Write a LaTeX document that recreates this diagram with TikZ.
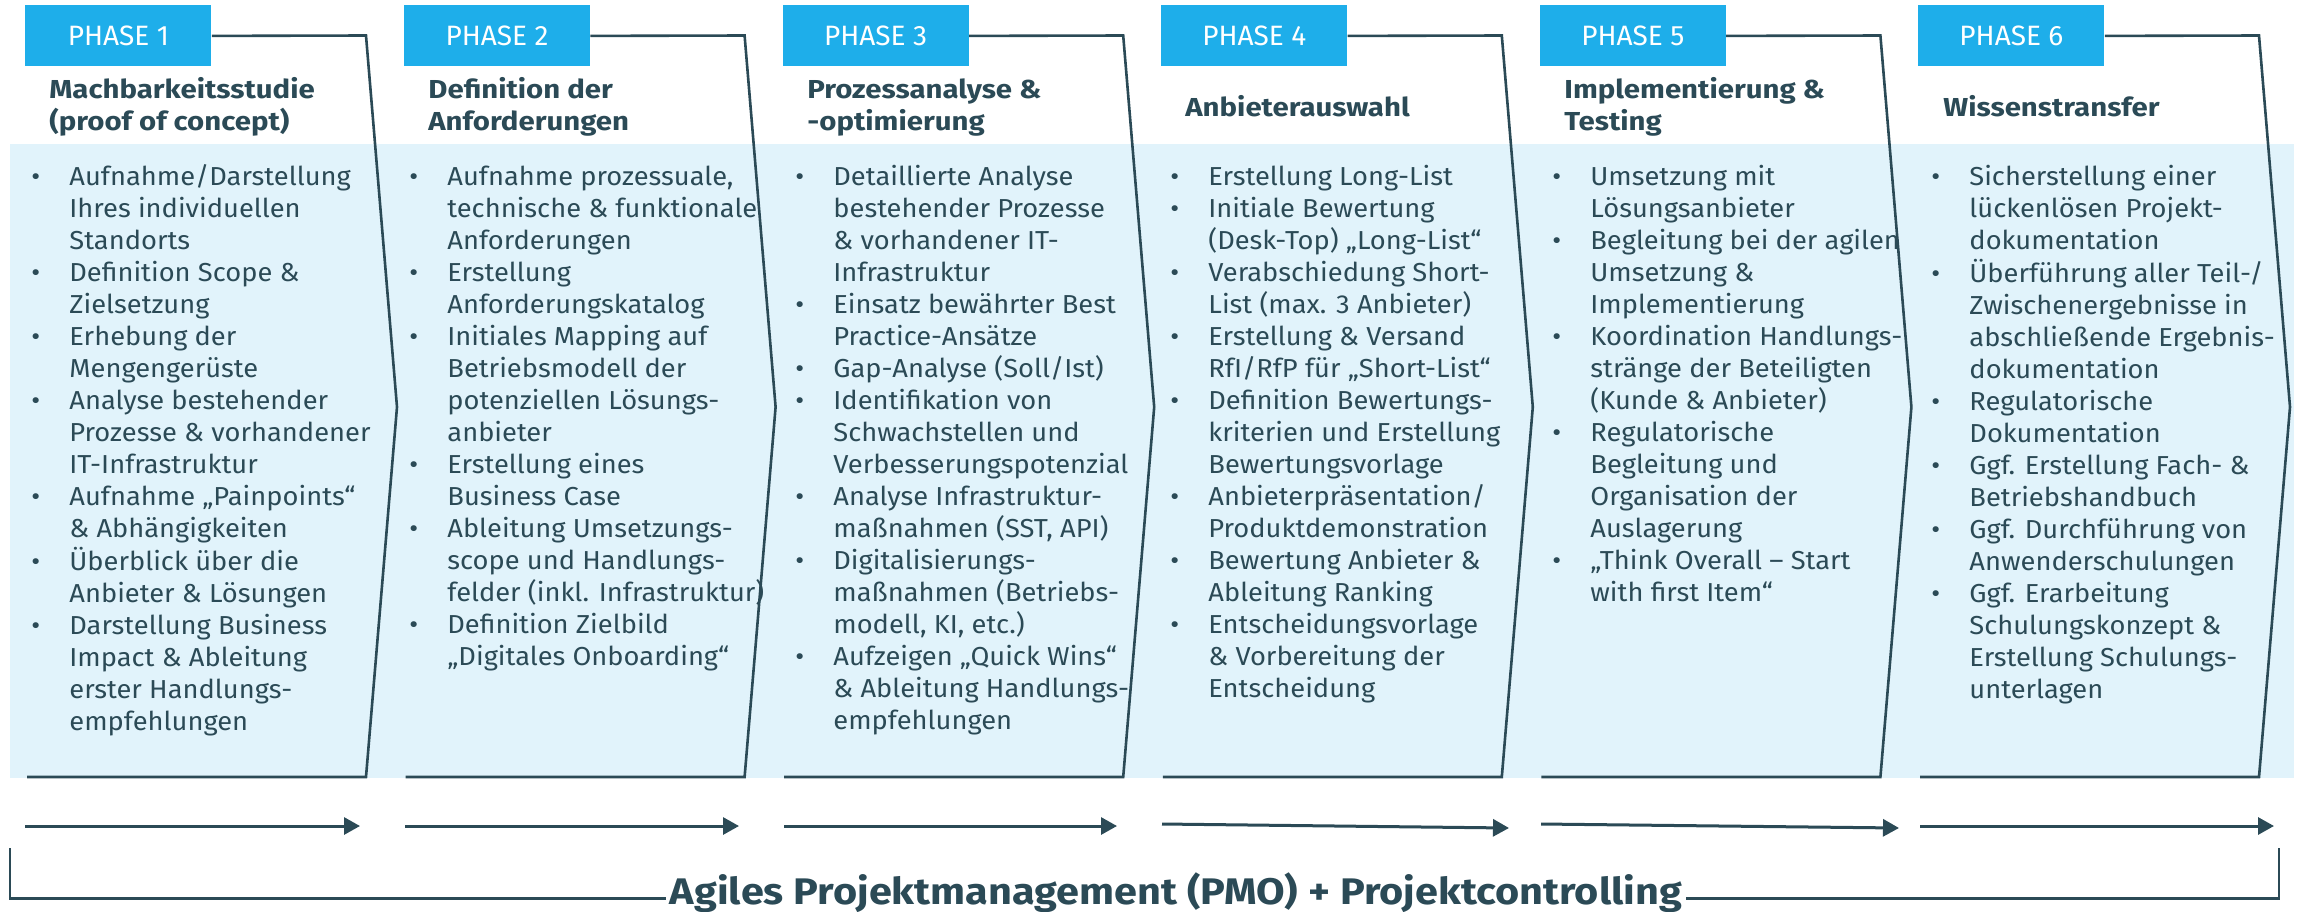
\documentclass[tikz,border=0pt]{standalone}
\usepackage{fontspec}
\setmainfont{Fira Sans}[FakeStretch=1.05]
\newfontfamily\titlefont{Fira Sans}[FakeStretch=1.13]
\newfontfamily\pmofont{Fira Sans}[FakeStretch=1.12]
\newfontfamily\labelfont{Fira Sans}
\usetikzlibrary{arrows.meta,calc}
\definecolor{phaseblue}{RGB}{30,174,234}
\definecolor{bandblue}{RGB}{225,243,251}
\definecolor{ink}{RGB}{43,74,86}
\newcommand\bul{\textbullet}
\newenvironment{blist}{\begin{tabular}{@{}p{19pt}@{}l@{}}}{\end{tabular}}
\newenvironment{tlist}{\begin{tabular}{@{}l@{}}}{\end{tabular}}
\begin{document}
\begin{tikzpicture}[x=0.5pt,y=-0.5pt,
  phasebox/.style={fill=phaseblue, text=white, minimum width=93pt, minimum height=30.5pt,
    inner sep=0pt, font=\labelfont\fontsize{14}{16}\selectfont, anchor=north west},
  titletext/.style={anchor=north west, inner sep=0pt, font=\titlefont\bfseries\fontsize{13}{16}\selectfont, text=ink},
  bodytext/.style={anchor=north west, inner sep=0pt, font=\fontsize{13}{16}\selectfont, text=ink},
  outline/.style={draw=ink, line width=1.3pt, line join=miter},
  flow/.style={draw=ink, line width=1.5pt, -{Triangle[length=8pt,width=8.5pt]}},
  bracket/.style={draw=ink, line width=1.3pt},
]
\useasboundingbox (0,0) rectangle (2297,911);
% light band
\fill[bandblue] (10,144) rectangle (2294,778);

% phase boxes
\foreach \i in {0,...,5}{
  \node[phasebox] (p\i) at ({25+378.6*\i},5) {PHASE \pgfmathparse{int(\i+1)}\pgfmathresult};
}
% chevron outlines
\foreach \i in {0,...,5}{
  \begin{scope}[shift={({378.6*\i},0)}]
    \draw[outline] (p\i.east) -- (366,35.5) -- (397,407) -- (366,777) -- (27,777);
  \end{scope}
}

% titles
\node[titletext] (t0) at (49,75.6) {\begin{tlist}Machbarkeitsstudie\\(proof of concept)\end{tlist}};
\node[titletext] (t1) at (428,75.6) {\begin{tlist}Definition der\\Anforderungen\end{tlist}};
\node[titletext] (t2) at (807,75.6) {\begin{tlist}Prozessanalyse \&\\-optimierung\end{tlist}};
\node[titletext] (t3) at (1185,93.6) {\begin{tlist}Anbieterauswahl\end{tlist}};
\node[titletext] (t4) at (1564,75.6) {\begin{tlist}Implementierung \&\\Testing\end{tlist}};
\node[titletext] (t5) at (1943,93.6) {\begin{tlist}Wissenstransfer\end{tlist}};

% bodies
\node[bodytext] (b0) at (31,162.6) {\begin{blist}
\bul & Aufnahme/Darstellung\\
 & Ihres individuellen\\
 & Standorts\\
\bul & Definition Scope \&\\
 & Zielsetzung\\
\bul & Erhebung der\\
 & Mengengerüste\\
\bul & Analyse bestehender\\
 & Prozesse \& vorhandener\\
 & IT-Infrastruktur\\
\bul & Aufnahme „Painpoints“\\
 & \& Abhängigkeiten\\
\bul & Überblick über die\\
 & Anbieter \& Lösungen\\
\bul & Darstellung Business\\
 & Impact \& Ableitung\\
 & erster Handlungs-\\
 & empfehlungen
\end{blist}};

\node[bodytext] (b1) at (409,162.6) {\begin{blist}
\bul & Aufnahme prozessuale,\\
 & technische \& funktionale\\
 & Anforderungen\\
\bul & Erstellung\\
 & Anforderungskatalog\\
\bul & Initiales Mapping auf\\
 & Betriebsmodell der\\
 & potenziellen Lösungs-\\
 & anbieter\\
\bul & Erstellung eines\\
 & Business Case\\
\bul & Ableitung Umsetzungs-\\
 & scope und Handlungs-\\
 & felder (inkl. Infrastruktur)\\
\bul & Definition Zielbild\\
 & „Digitales Onboarding“
\end{blist}};

\node[bodytext] (b2) at (795,162.6) {\begin{blist}
\bul & Detaillierte Analyse\\
 & bestehender Prozesse\\
 & \& vorhandener IT-\\
 & Infrastruktur\\
\bul & Einsatz bewährter Best\\
 & Practice-Ansätze\\
\bul & Gap-Analyse (Soll/Ist)\\
\bul & Identifikation von\\
 & Schwachstellen und\\
 & Verbesserungspotenzial\\
\bul & Analyse Infrastruktur-\\
 & maßnahmen (SST, API)\\
\bul & Digitalisierungs-\\
 & maßnahmen (Betriebs-\\
 & modell, KI, etc.)\\
\bul & Aufzeigen „Quick Wins“\\
 & \& Ableitung Handlungs-\\
 & empfehlungen
\end{blist}};

\node[bodytext] (b3) at (1170,162.6) {\begin{blist}
\bul & Erstellung Long-List\\
\bul & Initiale Bewertung\\
 & (Desk-Top) „Long-List“\\
\bul & Verabschiedung Short-\\
 & List (max. 3 Anbieter)\\
\bul & Erstellung \& Versand\\
 & RfI/RfP für „Short-List“\\
\bul & Definition Bewertungs-\\
 & kriterien und Erstellung\\
 & Bewertungsvorlage\\
\bul & Anbieterpräsentation/\\
 & Produktdemonstration\\
\bul & Bewertung Anbieter \&\\
 & Ableitung Ranking\\
\bul & Entscheidungsvorlage\\
 & \& Vorbereitung der\\
 & Entscheidung
\end{blist}};

\node[bodytext] (b4) at (1552,162.6) {\begin{blist}
\bul & Umsetzung mit\\
 & Lösungsanbieter\\
\bul & Begleitung bei der agilen\\
 & Umsetzung \&\\
 & Implementierung\\
\bul & Koordination Handlungs-\\
 & stränge der Beteiligten\\
 & (Kunde \& Anbieter)\\
\bul & Regulatorische\\
 & Begleitung und\\
 & Organisation der\\
 & Auslagerung\\
\bul & „Think Overall – Start\\
 & with first Item“
\end{blist}};

\node[bodytext] (b5) at (1931,162.6) {\begin{blist}
\bul & Sicherstellung einer\\
 & lückenlösen Projekt-\\
 & dokumentation\\
\bul & Überführung aller Teil-/\\
 & Zwischenergebnisse in\\
 & abschließende Ergebnis-\\
 & dokumentation\\
\bul & Regulatorische\\
 & Dokumentation\\
\bul & Ggf. Erstellung Fach- \&\\
 & Betriebshandbuch\\
\bul & Ggf. Durchführung von\\
 & Anwenderschulungen\\
\bul & Ggf. Erarbeitung\\
 & Schulungskonzept \&\\
 & Erstellung Schulungs-\\
 & unterlagen
\end{blist}};

% flow arrows
\coordinate (s0) at (25,826);   \coordinate (e0) at (360,826);
\coordinate (s1) at (405,826);  \coordinate (e1) at (739,826);
\coordinate (s2) at (784,826);  \coordinate (e2) at (1117,826);
\coordinate (s3) at (1162,824); \coordinate (e3) at (1509,828);
\coordinate (s4) at (1541,824); \coordinate (e4) at (1899,828);
\coordinate (s5) at (1920,826); \coordinate (e5) at (2274,826);
\foreach \i in {0,...,5}{\draw[flow] (s\i) -- (e\i);}

% PMO bracket
\node[anchor=base, inner xsep=2pt, inner ysep=0pt, text=ink,
  font=\pmofont\bfseries\fontsize{18.5}{20}\selectfont] (pmo) at (1176,904)
  {Agiles Projektmanagement (PMO) + Projektcontrolling};
\coordinate (bl) at (10,848);
\coordinate (br) at (2279,848);
\draw[bracket] (bl) |- (pmo.mid west);
\draw[bracket] (br) |- (pmo.mid east);
\end{tikzpicture}
\end{document}
